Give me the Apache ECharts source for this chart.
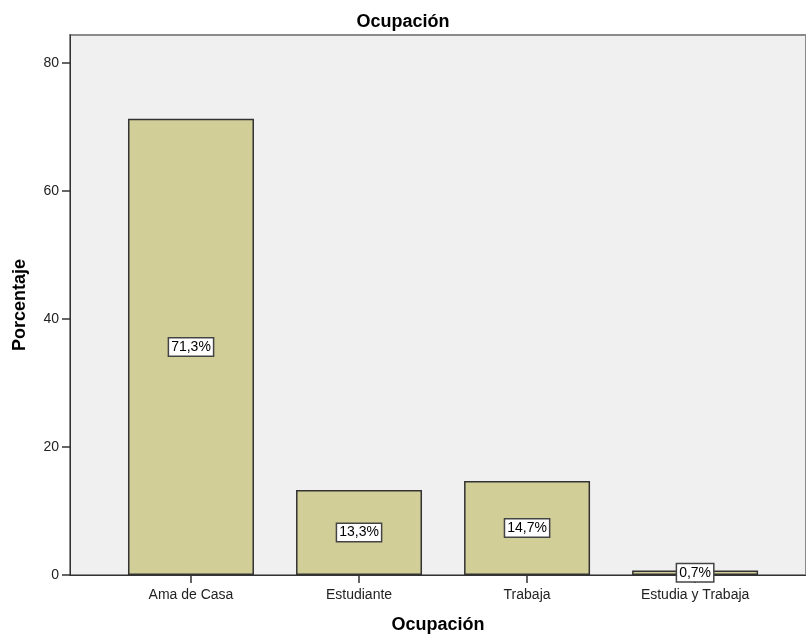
<!DOCTYPE html>
<html>
<head>
<meta charset="utf-8">
<script src="https://cdn.jsdelivr.net/npm/echarts@6/dist/echarts.min.js"></script>
<style>html,body{margin:0;padding:0;background:#fff;}#c{width:806px;height:636px;}</style>
</head>
<body>
<div id="c"></div>
<script>
const categories = ['Ama de Casa', 'Estudiante', 'Trabaja', 'Estudia y Trabaja'];
const values = [71.3, 13.3, 14.7, 0.7];
const labels = ['71,3%', '13,3%', '14,7%', '0,7%'];
const yTicks = [0, 20, 40, 60, 80];
const xTicks = [0, 1, 2, 3];

const chart = echarts.init(document.getElementById('c'));
const font = 'Liberation Sans, Arial, sans-serif';
chart.setOption({
  animation: false,
  backgroundColor: '#ffffff',
  title: {
    text: 'Ocupación', left: 'center', top: 8,
    textStyle: { fontFamily: font, fontSize: 18, fontWeight: 'bold', color: '#000' }
  },
  grid: {
    left: 70, right: 0, top: 35, bottom: 61,
    outerBoundsMode: 'none', containLabel: false,
    show: true, backgroundColor: '#f0f0f0', borderColor: '#8a8a8a', borderWidth: 2
  },
  xAxis: {
    type: 'value', min: -0.72, max: 3.66,
    name: 'Ocupación', nameLocation: 'middle', nameGap: 41,
    nameTextStyle: { fontFamily: font, fontSize: 18, fontWeight: 'bold', color: '#000' },
    splitLine: { show: false },
    axisLine: { show: true, onZero: false, lineStyle: { color: '#333', width: 1 } },
    axisTick: { show: true, customValues: xTicks, length: 8, lineStyle: { color: '#333', width: 1.5 } },
    axisLabel: {
      customValues: xTicks, margin: 13,
      formatter: v => categories[Math.round(v)] || '',
      fontFamily: font, fontSize: 14, color: '#222'
    }
  },
  yAxis: {
    type: 'value', min: 0, max: 84.4,
    name: 'Porcentaje', nameLocation: 'middle', nameGap: 41,
    nameTextStyle: { fontFamily: font, fontSize: 18, fontWeight: 'bold', color: '#000' },
    splitLine: { show: false },
    axisLine: { show: true, onZero: false, lineStyle: { color: '#333', width: 1 } },
    axisTick: { show: true, customValues: yTicks, length: 8, lineStyle: { color: '#333', width: 1.5 } },
    axisLabel: {
      customValues: yTicks, margin: 11, fontFamily: font, fontSize: 14, color: '#222'
    }
  },
  series: [{
    type: 'bar',
    barWidth: 126,
    data: values.map((v, i) => [i, v]),
    itemStyle: { color: '#d2ce98', borderColor: '#333', borderWidth: 1.5 },
    label: {
      show: true, position: 'inside',
      formatter: p => labels[p.dataIndex],
      fontFamily: font, fontSize: 14, color: '#000',
      backgroundColor: '#fff', borderColor: '#444', borderWidth: 1.5,
      padding: [2, 2, 1, 2]
    }
  }]
});
</script>
</body>
</html>
